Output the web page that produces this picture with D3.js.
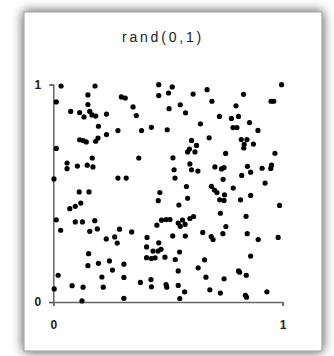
<!DOCTYPE html>
<html>
<head>
<meta charset="utf-8">
<script src="https://cdn.jsdelivr.net/npm/d3@7"></script>
<style>
  html, body { margin: 0; padding: 0; background: #fff; }
  svg { display: block; }
</style>
</head>
<body>
<div id="my_dataviz"></div>
<script>
const chartTitle = "rand(0,1)";
const xTicks = [0, 1];
const yTicks = [0, 1];

// point values, x and y in the same order
const xs = [
  0.034, 0.182, 0.151, 0.297, 0.314, 0.013, 0.151, 0.076, 0.115, 0.134,
  0.159, 0.169, 0.185, 0.232, 0.197, 0.282, 0.232, 0.195, 0.185, 0.115,
  0.130, 0.144, 0.013, 0.170, 0.060, 0.060, 0.105, 0.148, 0.173, 0.003,
  0.282, 0.318, 0.113, 0.156, 0.460, 0.519, 0.460, 0.503, 0.610, 0.671,
  0.692, 0.348, 0.362, 0.505, 0.554, 0.577, 0.642, 0.385, 0.428, 0.497,
  0.680, 0.603, 0.625, 0.594, 0.586, 0.618, 0.373, 0.522, 0.596, 0.603,
  0.631, 0.527, 0.531, 0.581, 0.465, 0.996, 0.830, 0.950, 0.962, 0.797,
  0.725, 0.777, 0.808, 0.856, 0.784, 0.801, 0.893, 0.820, 0.845, 0.833,
  0.831, 0.873, 0.967, 0.752, 0.705, 0.734, 0.745, 0.847, 0.861, 0.911,
  0.952, 0.949, 0.822, 0.741, 0.924, 0.690, 0.703, 0.714, 0.785, 0.072,
  0.096, 0.120, 0.013, 0.096, 0.127, 0.181, 0.032, 0.159, 0.192, 0.289,
  0.342, 0.231, 0.268, 0.279, 0.154, 0.151, 0.197, 0.245, 0.258, 0.308,
  0.021, 0.212, 0.308, 0.082, 0.130, 0.218, 0.004, 0.125, 0.308, 0.458,
  0.586, 0.548, 0.452, 0.472, 0.492, 0.509, 0.545, 0.554, 0.564, 0.575,
  0.596, 0.612, 0.652, 0.689, 0.697, 0.521, 0.576, 0.409, 0.460, 0.407,
  0.435, 0.457, 0.470, 0.407, 0.428, 0.444, 0.487, 0.532, 0.551, 0.632,
  0.660, 0.545, 0.380, 0.426, 0.428, 0.492, 0.495, 0.545, 0.573, 0.552,
  0.666, 0.747, 0.726, 0.745, 0.817, 0.861, 0.987, 0.729, 0.841, 0.753,
  0.740, 0.846, 0.894, 0.981, 0.861, 0.808, 0.813, 0.842, 0.745, 0.683,
  0.729, 0.838, 0.843, 0.932
];
const ys = [
  0.993, 0.993, 0.952, 0.943, 0.938, 0.920, 0.908, 0.876, 0.871, 0.851,
  0.876, 0.860, 0.855, 0.864, 0.808, 0.788, 0.770, 0.754, 0.739, 0.746,
  0.742, 0.736, 0.706, 0.662, 0.639, 0.613, 0.625, 0.629, 0.621, 0.566,
  0.570, 0.570, 0.506, 0.506, 0.999, 0.989, 0.949, 0.961, 0.956, 0.976,
  0.923, 0.897, 0.857, 0.889, 0.907, 0.870, 0.819, 0.788, 0.803, 0.792,
  0.755, 0.743, 0.720, 0.703, 0.690, 0.690, 0.662, 0.663, 0.635, 0.608,
  0.602, 0.608, 0.570, 0.531, 0.503, 0.999, 0.955, 0.923, 0.923, 0.902,
  0.853, 0.844, 0.853, 0.825, 0.802, 0.802, 0.789, 0.747, 0.747, 0.725,
  0.708, 0.726, 0.684, 0.683, 0.621, 0.612, 0.618, 0.624, 0.597, 0.615,
  0.629, 0.614, 0.582, 0.564, 0.547, 0.532, 0.515, 0.503, 0.524, 0.429,
  0.440, 0.455, 0.378, 0.368, 0.368, 0.374, 0.330, 0.325, 0.336, 0.335,
  0.322, 0.290, 0.299, 0.271, 0.222, 0.167, 0.178, 0.189, 0.147, 0.174,
  0.123, 0.115, 0.113, 0.075, 0.068, 0.068, 0.060, 0.005, 0.017, 0.466,
  0.477, 0.446, 0.353, 0.376, 0.379, 0.379, 0.363, 0.348, 0.377, 0.357,
  0.384, 0.393, 0.320, 0.301, 0.287, 0.304, 0.303, 0.297, 0.272, 0.253,
  0.234, 0.234, 0.242, 0.204, 0.200, 0.203, 0.206, 0.195, 0.230, 0.157,
  0.194, 0.143, 0.090, 0.103, 0.070, 0.080, 0.068, 0.076, 0.047, 0.016,
  0.114, 0.493, 0.470, 0.467, 0.470, 0.490, 0.444, 0.408, 0.394, 0.347,
  0.314, 0.314, 0.287, 0.297, 0.211, 0.143, 0.137, 0.123, 0.107, 0.056,
  0.041, 0.031, 0.022, 0.047
];

const width = 334;
const height = 356;
const marginLeft = 53.3;
const marginTop = 84.5;
const plotW = 229.2;
const plotH = 217.5;

const svg = d3.select("#my_dataviz")
  .append("svg")
    .attr("width", width)
    .attr("height", height);

// soft shadow under the card
const defs = svg.append("defs");
const shadow = defs.append("filter")
  .attr("id", "shadow")
  .attr("x", "-20%").attr("y", "-20%")
  .attr("width", "140%").attr("height", "140%");
shadow.append("feGaussianBlur").attr("in", "SourceAlpha").attr("stdDeviation", 6).attr("result", "blur");
shadow.append("feComponentTransfer").attr("in", "blur").attr("result", "soft")
  .append("feFuncA").attr("type", "linear").attr("slope", 0.75);
const merge = shadow.append("feMerge");
merge.append("feMergeNode").attr("in", "soft");
merge.append("feMergeNode").attr("in", "SourceGraphic");

svg.append("rect")
  .attr("x", 24)
  .attr("y", 12)
  .attr("width", 298)
  .attr("height", 339)
  .attr("fill", "#fff")
  .attr("stroke", "#999")
  .attr("stroke-width", 1)
  .attr("filter", "url(#shadow)");

svg.append("text")
  .attr("x", 163)
  .attr("y", 42)
  .attr("text-anchor", "middle")
  .style("font-family", "Liberation Sans, Arial, sans-serif")
  .style("font-size", "14px")
  .style("letter-spacing", "2.8px")
  .style("fill", "#222")
  .text(chartTitle);

const g = svg.append("g")
  .attr("transform", "translate(" + marginLeft + "," + marginTop + ")");

const x = d3.scaleLinear()
  .domain([0, 1])
  .range([0, plotW]);

const y = d3.scaleLinear()
  .domain([0, 1])
  .range([plotH, 0]);

const xAxis = g.append("g")
  .attr("transform", "translate(0," + plotH + ")")
  .call(d3.axisBottom(x).tickValues(xTicks).tickFormat(d3.format("d")).tickSize(4).tickPadding(14));

const yAxis = g.append("g")
  .call(d3.axisLeft(y).tickValues(yTicks).tickFormat(d3.format("d")).tickSize(4).tickPadding(8));

[xAxis, yAxis].forEach(a => {
  a.select(".domain").attr("stroke", "#666").attr("stroke-width", 1.5);
  a.selectAll(".tick line").attr("stroke", "#666").attr("stroke-width", 1.5);
  a.selectAll(".tick text")
    .style("font-family", "Liberation Sans, Arial, sans-serif")
    .style("font-size", "12px")
    .style("font-weight", "bold")
    .style("fill", "#222");
});

g.append("g")
  .selectAll("circle")
  .data(xs.map((v, i) => [v, ys[i]]))
  .enter().append("circle")
    .attr("cx", d => x(d[0]))
    .attr("cy", d => y(d[1]))
    .attr("r", 2.6)
    .style("fill", "#000");
</script>
</body>
</html>
